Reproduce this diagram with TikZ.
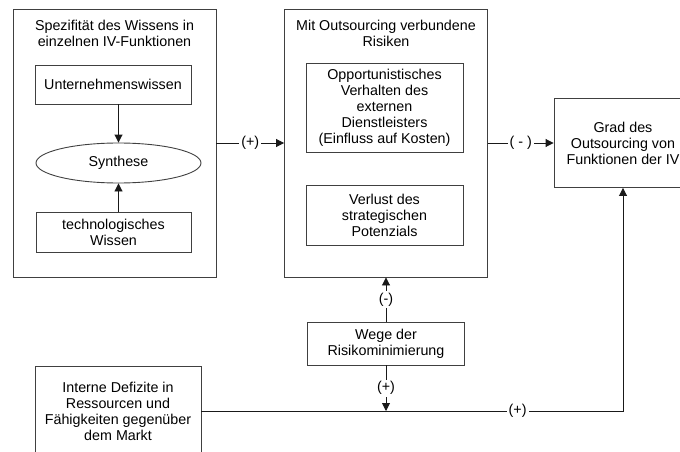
\documentclass[tikz,border=0pt]{standalone}
\usepackage{fontspec}
\setmainfont{Liberation Sans}
\usetikzlibrary{arrows.meta,positioning,shapes.geometric}

\begin{document}
\begin{tikzpicture}[x=1pt, y=-1pt, on grid,
    font=\fontsize{14.3}{16}\selectfont,
    rahmen/.style={draw=black!75, line width=0.9pt, minimum width=203pt, minimum height=268pt},
    kasten/.style={draw=black!75, line width=0.9pt, align=center, inner sep=0pt},
    titel/.style={align=center, anchor=north, inner sep=0pt},
    zeichen/.style={fill=white, inner sep=2pt},
    pfeil/.style={draw=black!90, line width=0.9pt, -{Triangle[length=8pt,width=8pt]}}]
  \useasboundingbox (0,0) rectangle (680,452);
  \node[rahmen] (wissen) at (114.5,143) {};
  \node[rahmen, right=271.5pt of wissen] (risiken) {};
  \node[titel] (wissentitel) at ([yshift=-11pt]wissen.north) {Spezifität des Wissens in\\einzelnen IV-Funktionen};
  \node[titel] (risikentitel) at ([yshift=-11pt]risiken.north) {Mit Outsourcing verbundene\\Risiken};
  \node[kasten, minimum width=156pt, minimum height=39pt, above=58.5pt of wissen, xshift=-1.5pt] (unternehmen) {Unternehmenswissen};
  \node[kasten, ellipse, minimum width=165pt, minimum height=40pt, below=20pt of wissen, xshift=4pt] (synthese) {Synthese};
  \node[kasten, minimum width=155pt, minimum height=40pt, below=89pt of wissen, xshift=-1pt] (technik) {technologisches\\Wissen};
  \node[kasten, minimum width=157pt, minimum height=89pt, above=35.5pt of risiken, xshift=-1.5pt] (opportun) {Opportunistisches\\Verhalten des\\externen\\Dienstleisters\\(Einfluss auf Kosten)};
  \node[kasten, minimum width=157pt, minimum height=60pt, below=72pt of risiken, xshift=-1.5pt] (verlust) {Verlust des\\strategischen\\Potenzials};
  \node[kasten, minimum width=138pt, minimum height=89pt, right=237pt of risiken] (grad) {Grad des\\Outsourcing von\\Funktionen der IV};
  \node[kasten, minimum width=157pt, minimum height=43pt, below=200.5pt of risiken] (wege) {Wege der\\Risikominimierung};
  \node[kasten, minimum width=166pt, minimum height=90pt] (interne) at (118,411) {Interne Defizite in\\Ressourcen und\\Fähigkeiten gegenüber\\dem Markt};
  \coordinate (treffpunkt) at (wege |- interne);
  \draw[pfeil] (unternehmen.south -| synthese) -- (synthese);
  \draw[pfeil] (technik.north -| synthese) -- (synthese);
  \draw[pfeil] (wissen) -- node[zeichen] {(+)} (risiken);
  \draw[pfeil] (risiken) -- node[zeichen] {( - )} (grad);
  \draw[pfeil] (wege) -- node[zeichen] {(-)} (risiken);
  \draw[pfeil] (wege) -- node[zeichen] {(+)} (treffpunkt);
  \draw[pfeil] (interne) -- node[zeichen, pos=0.75] {(+)} (interne -| grad) -- (grad);
\end{tikzpicture}
\end{document}
